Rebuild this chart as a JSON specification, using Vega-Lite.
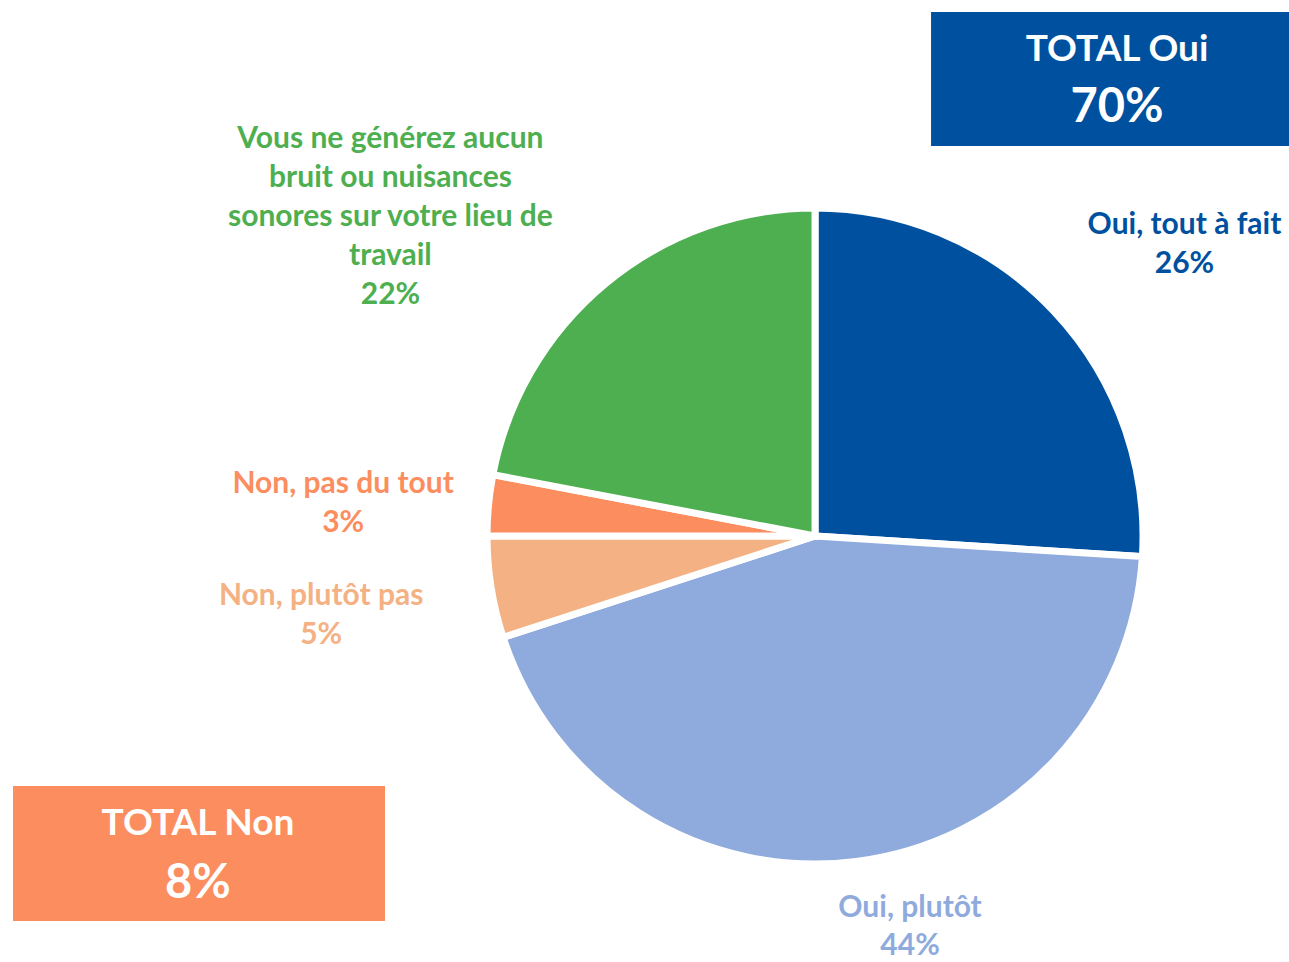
{
  "$schema": "https://vega.github.io/schema/vega-lite/v6.json",
  "width": 1289,
  "height": 962,
  "autosize": "none",
  "padding": 0,
  "background": "white",
  "config": {"view": {"stroke": null}},
  "data": {
    "values": [
      {"name": "Oui, tout à fait", "label": "Oui, tout à fait", "pct": 26, "group": "Oui", "idx": 1},
      {"name": "Oui, plutôt", "label": "Oui, plutôt", "pct": 44, "group": "Oui", "idx": 2},
      {"name": "Non, plutôt pas", "label": "Non, plutôt pas", "pct": 5, "group": "Non", "idx": 3},
      {"name": "Non, pas du tout", "label": "Non, pas du tout", "pct": 3, "group": "Non", "idx": 4},
      {"name": "Vous ne générez aucun bruit ou nuisances sonores sur votre lieu de travail", "label": "Vous ne générez aucun\nbruit ou nuisances\nsonores sur votre lieu de\ntravail", "pct": 22, "group": "Sans objet", "idx": 5}
    ]
  },
  "layer": [
    {
      "mark": {"type": "arc", "outerRadius": 328, "stroke": "white", "strokeWidth": 7},
      "encoding": {
        "theta": {"field": "pct", "type": "quantitative", "stack": true},
        "order": {"field": "idx", "type": "quantitative"},
        "color": {"field": "name", "type": "nominal", "legend": null,
          "scale": {"domain": ["Oui, tout à fait", "Oui, plutôt", "Non, plutôt pas", "Non, pas du tout", "Vous ne générez aucun bruit ou nuisances sonores sur votre lieu de travail"],
                    "range": ["#0050A0", "#8FAADC", "#F4B183", "#FC8D5E", "#4EAF50"]}},
        "x": {"datum": 0.6323, "type": "quantitative", "scale": {"domain": [0, 1], "nice": false, "zero": false}, "axis": null},
        "y": {"datum": 0.5572, "type": "quantitative", "scale": {"domain": [0, 1], "nice": false, "zero": false, "reverse": true}, "axis": null}
      }
    },
    {
      "mark": {"type": "text", "font": "Lato", "fontWeight": "bold", "fontSize": 30, "lineHeight": 39, "align": "center", "baseline": "alphabetic", "lineBreak": "\n", "radius": 478, "dx": 21, "dy": 25,
        "text": {"expr": "datum.name === 'Oui, tout à fait' ? datum.label + '\\n' + datum.pct + '%' : ''"}},
      "encoding": {
        "theta": {"field": "pct", "type": "quantitative", "stack": true},
        "order": {"field": "idx", "type": "quantitative"},
        "color": {"field": "name", "type": "nominal", "legend": null},
        "x": {"datum": 0.6323, "type": "quantitative"},
        "y": {"datum": 0.5572, "type": "quantitative"}
      }
    },
    {
      "mark": {"type": "text", "font": "Lato", "fontWeight": "bold", "fontSize": 30, "lineHeight": 38, "align": "center", "baseline": "alphabetic", "lineBreak": "\n", "radius": 391, "dx": 46, "dy": -7,
        "text": {"expr": "datum.name === 'Oui, plutôt' ? datum.label + '\\n' + datum.pct + '%' : ''"}},
      "encoding": {
        "theta": {"field": "pct", "type": "quantitative", "stack": true},
        "order": {"field": "idx", "type": "quantitative"},
        "color": {"field": "name", "type": "nominal", "legend": null},
        "x": {"datum": 0.6323, "type": "quantitative"},
        "y": {"datum": 0.5572, "type": "quantitative"}
      }
    },
    {
      "mark": {"type": "text", "font": "Lato", "fontWeight": "bold", "fontSize": 30, "lineHeight": 39, "align": "center", "baseline": "alphabetic", "lineBreak": "\n", "radius": 498, "dx": -2, "dy": -9,
        "text": {"expr": "datum.name === 'Non, plutôt pas' ? datum.label + '\\n' + datum.pct + '%' : ''"}},
      "encoding": {
        "theta": {"field": "pct", "type": "quantitative", "stack": true},
        "order": {"field": "idx", "type": "quantitative"},
        "color": {"field": "name", "type": "nominal", "legend": null},
        "x": {"datum": 0.6323, "type": "quantitative"},
        "y": {"datum": 0.5572, "type": "quantitative"}
      }
    },
    {
      "mark": {"type": "text", "font": "Lato", "fontWeight": "bold", "fontSize": 30, "lineHeight": 39, "align": "center", "baseline": "alphabetic", "lineBreak": "\n", "radius": 474, "dx": 0, "dy": 2,
        "text": {"expr": "datum.name === 'Non, pas du tout' ? datum.label + '\\n' + datum.pct + '%' : ''"}},
      "encoding": {
        "theta": {"field": "pct", "type": "quantitative", "stack": true},
        "order": {"field": "idx", "type": "quantitative"},
        "color": {"field": "name", "type": "nominal", "legend": null},
        "x": {"datum": 0.6323, "type": "quantitative"},
        "y": {"datum": 0.5572, "type": "quantitative"}
      }
    },
    {
      "mark": {"type": "text", "font": "Lato", "fontWeight": "bold", "fontSize": 30, "lineHeight": 39, "align": "center", "baseline": "alphabetic", "lineBreak": "\n", "radius": 572, "dx": -60, "dy": 53,
        "text": {"expr": "datum.idx === 5 ? datum.label + '\\n' + datum.pct + '%' : ''"}},
      "encoding": {
        "theta": {"field": "pct", "type": "quantitative", "stack": true},
        "order": {"field": "idx", "type": "quantitative"},
        "color": {"field": "name", "type": "nominal", "legend": null},
        "x": {"datum": 0.6323, "type": "quantitative"},
        "y": {"datum": 0.5572, "type": "quantitative"}
      }
    },
    {
      "transform": [{"filter": "datum.group === 'Oui'"}, {"aggregate": [{"op": "sum", "field": "pct", "as": "total"}], "groupby": ["group"]}],
      "layer": [
        {
          "mark": {"type": "rect", "color": "#0050A0"},
          "encoding": {
            "x": {"datum": 0.7223, "type": "quantitative"},
            "x2": {"datum": 1.0},
            "y": {"datum": 0.0125, "type": "quantitative"},
            "y2": {"datum": 0.1518}
          }
        },
        {
          "mark": {"type": "text", "font": "Lato", "fontWeight": "bold", "fontSize": 37, "color": "white", "align": "center", "baseline": "alphabetic",
            "text": {"expr": "'TOTAL ' + datum.group"}},
          "encoding": {
            "x": {"datum": 0.8666, "type": "quantitative"},
            "y": {"datum": 0.0634, "type": "quantitative"}
          }
        },
        {
          "mark": {"type": "text", "font": "Lato", "fontWeight": "bold", "fontSize": 47, "color": "white", "align": "center", "baseline": "alphabetic",
            "text": {"expr": "datum.total + '%'"}},
          "encoding": {
            "x": {"datum": 0.8666, "type": "quantitative"},
            "y": {"datum": 0.1268, "type": "quantitative"}
          }
        }
      ]
    },
    {
      "transform": [{"filter": "datum.group === 'Non'"}, {"aggregate": [{"op": "sum", "field": "pct", "as": "total"}], "groupby": ["group"]}],
      "layer": [
        {
          "mark": {"type": "rect", "color": "#FC8D5E"},
          "encoding": {
            "x": {"datum": 0.0101, "type": "quantitative"},
            "x2": {"datum": 0.2987},
            "y": {"datum": 0.8170, "type": "quantitative"},
            "y2": {"datum": 0.9574}
          }
        },
        {
          "mark": {"type": "text", "font": "Lato", "fontWeight": "bold", "fontSize": 37, "color": "white", "align": "center", "baseline": "alphabetic",
            "text": {"expr": "'TOTAL ' + datum.group"}},
          "encoding": {
            "x": {"datum": 0.1536, "type": "quantitative"},
            "y": {"datum": 0.8680, "type": "quantitative"}
          }
        },
        {
          "mark": {"type": "text", "font": "Lato", "fontWeight": "bold", "fontSize": 47, "color": "white", "align": "center", "baseline": "alphabetic",
            "text": {"expr": "datum.total + '%'"}},
          "encoding": {
            "x": {"datum": 0.1536, "type": "quantitative"},
            "y": {"datum": 0.9335, "type": "quantitative"}
          }
        }
      ]
    }
  ]
}
